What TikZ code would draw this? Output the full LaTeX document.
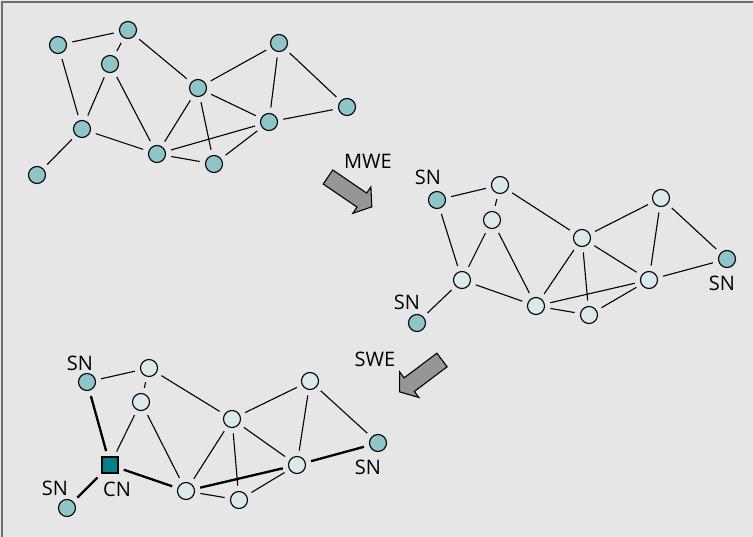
\documentclass[tikz,border=0pt]{standalone}
\usepackage{fontspec}
\setmainfont{Open Sans}
\definecolor{bgc}{RGB}{230,230,230}
\definecolor{framec}{RGB}{110,110,110}
\definecolor{darkn}{RGB}{143,196,200}
\definecolor{lightn}{RGB}{218,233,236}
\definecolor{cnc}{RGB}{0,128,140}
\definecolor{arrc}{RGB}{150,150,150}
\begin{document}
\begin{tikzpicture}[x=1pt,y=-1pt,
  dn/.style={circle,draw=black,line width=1.1pt,fill=darkn,minimum size=17pt,inner sep=0pt},
  ln/.style={circle,draw=black,line width=1.1pt,fill=lightn,minimum size=17pt,inner sep=0pt},
  cn/.style={rectangle,draw=black,line width=1.1pt,fill=cnc,minimum size=16pt,inner sep=0pt},
  lbl/.style={font=\fontsize{20}{20}\selectfont,inner sep=0pt},
  edge/.style={line width=1.1pt,shorten <=5.5pt,shorten >=5.5pt},
  thick edge/.style={line width=2.3pt,shorten <=5.5pt,shorten >=5.5pt},
  blockarrow/.style={draw=black,line width=1.1pt,fill=arrc,line join=miter}]
\useasboundingbox (0,0) rectangle (753,537);
\fill[bgc] (0,0) rectangle (753,537);
\draw[framec,line width=2pt] (2,537) -- (2,2) -- (753,2);

% top graph
\node[dn] (a1) at (58,45) {};
\node[dn] (a2) at (128,30) {};
\node[dn] (a3) at (110,64) {};
\node[dn] (a4) at (82,129) {};
\node[dn] (a5) at (37,175) {};
\node[dn] (a6) at (157,154) {};
\node[dn] (a7) at (214,164) {};
\node[dn] (a8) at (198,88) {};
\node[dn] (a9) at (279,43) {};
\node[dn] (a10) at (269,122) {};
\node[dn] (a11) at (347,107) {};
\foreach \u/\v in {a1/a2,a1/a4,a2/a3,a3/a4,a3/a6,a2/a8,a4/a5,a4/a6,a6/a8,a6/a7,a6/a10,a7/a10,a8/a7,a8/a10,a8/a9,a9/a10,a9/a11,a10/a11}
  \draw[edge] (\u) -- (\v);

% MWE arrow
\node[lbl] (mwe) at (368,161) {MWE};
\begin{scope}[shift={(328,177)},rotate=-34.3]
\draw[blockarrow] (0,-8.5) -- (41,-8.5) -- (41,-16) -- (53,0) -- (41,16) -- (41,8.5) -- (0,8.5) -- cycle;
\end{scope}

% middle graph
\node[dn] (b1) at (437,200) {};
\node[ln] (b2) at (500,185) {};
\node[ln] (b3) at (492,220) {};
\node[ln] (b4) at (462,280) {};
\node[dn] (b5) at (417,323) {};
\node[ln] (b6) at (536,306) {};
\node[ln] (b7) at (589,315) {};
\node[ln] (b8) at (582,238) {};
\node[ln] (b9) at (661,198) {};
\node[ln] (b10) at (649,280) {};
\node[dn] (b11) at (727,259) {};
\foreach \u/\v in {b1/b2,b1/b4,b2/b3,b3/b4,b3/b6,b2/b8,b4/b5,b4/b6,b6/b8,b6/b7,b6/b10,b7/b10,b8/b7,b8/b10,b8/b9,b9/b10,b9/b11,b10/b11}
  \draw[edge] (\u) -- (\v);
\node[lbl] (snb1) at (428,177) {SN};
\node[lbl] (snb5) at (407,302) {SN};
\node[lbl] (snb11) at (722,283) {SN};

% SWE arrow
\node[lbl] (swe) at (375,359) {SWE};
\begin{scope}[shift={(442,360)},rotate=217]
\draw[blockarrow] (0,-8.5) -- (41,-8.5) -- (41,-16) -- (53,0) -- (41,16) -- (41,8.5) -- (0,8.5) -- cycle;
\end{scope}

% bottom graph
\node[dn] (c1) at (87,382) {};
\node[ln] (c2) at (149,368) {};
\node[ln] (c3) at (141,402) {};
\node[cn] (c4) at (110,465) {};
\node[dn] (c5) at (67,508) {};
\node[ln] (c6) at (186,491) {};
\node[ln] (c7) at (239,500) {};
\node[ln] (c8) at (232,419) {};
\node[ln] (c9) at (310,381) {};
\node[ln] (c10) at (297,465) {};
\node[dn] (c11) at (378,443) {};
\foreach \u/\v in {c1/c2,c2/c3,c3/c4,c3/c6,c2/c8,c6/c7,c6/c8,c7/c10,c8/c7,c8/c10,c8/c9,c9/c10,c9/c11}
  \draw[edge] (\u) -- (\v);
\foreach \u/\v in {c1/c4,c4/c5,c4/c6,c6/c10,c10/c11}
  \draw[thick edge] (\u) -- (\v);
\node[lbl] (snc1) at (80,363) {SN};
\node[lbl] (snc5) at (55,488) {SN};
\node[lbl] (cnl) at (117,489) {CN};
\node[lbl] (snc11) at (368,467) {SN};
\end{tikzpicture}
\end{document}
